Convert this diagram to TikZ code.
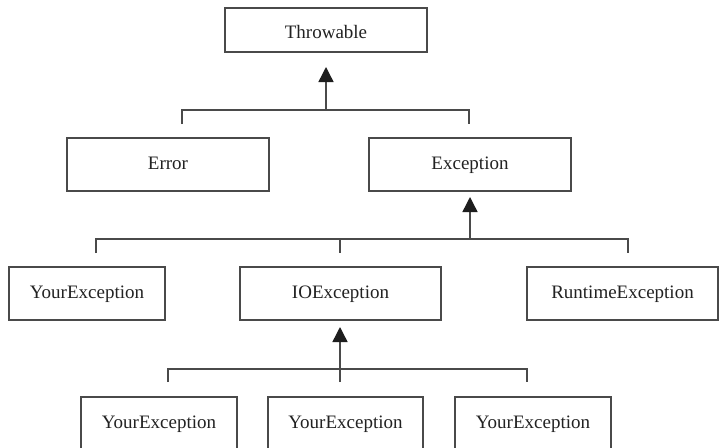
\documentclass[tikz,border=0pt]{standalone}
\usepackage{fontspec}
\setmainfont{Liberation Serif}
\usetikzlibrary{arrows.meta}

\definecolor{linegray}{HTML}{4A4A4A}
\definecolor{textgray}{HTML}{222222}
\definecolor{tipblack}{HTML}{1E1E1E}

\tikzset{
  classbox/.style={draw=linegray, line width=1.4pt, rectangle, inner sep=0pt,
    text=textgray, font=\fontsize{19}{22}\selectfont,
    text height=13pt, text depth=4pt},
  bus/.style={draw=linegray, line width=1.4pt},
  inherit/.style={draw=linegray, line width=1.4pt,
    -{Triangle[width=15pt,length=15pt,color=tipblack]}},
}

\begin{document}
\begin{tikzpicture}[x=1pt,y=-1pt]
  \fill[white] (0,0) rectangle (720,447);
  \useasboundingbox (0,0) rectangle (720,447);

  % class boxes
  \node[classbox, minimum width=202pt, minimum height=44pt,
        text height=17pt, text depth=0pt] (throwable) at (326,30) {Throwable};
  \node[classbox, minimum width=202pt, minimum height=53pt] (error) at (168,164.5) {Error};
  \node[classbox, minimum width=202pt, minimum height=53pt] (exception) at (470,164.5) {Exception};
  \node[classbox, minimum width=156pt, minimum height=53pt] (yourA) at (87,293.5) {YourException};
  \node[classbox, minimum width=201pt, minimum height=53pt] (ioex) at (340.5,293.5) {IOException};
  \node[classbox, minimum width=191pt, minimum height=53pt] (runtime) at (622.5,293.5) {RuntimeException};
  \node[classbox, minimum width=156pt, minimum height=53pt] (yourB) at (159,423.5) {YourException};
  \node[classbox, minimum width=155pt, minimum height=53pt] (yourC) at (345.5,423.5) {YourException};
  \node[classbox, minimum width=156pt, minimum height=53pt] (yourD) at (533,423.5) {YourException};

  % level 1: Error, Exception -> Throwable
  \coordinate (j1) at (326,110);
  \coordinate (t1) at (326,67);
  \coordinate (e1) at (182,124);
  \coordinate (x1) at (469,124);
  \draw[bus] (e1) -- (182,110) -- (469,110) -- (x1);
  \draw[inherit] (j1) -- (t1);

  % level 2: YourException, IOException, RuntimeException -> Exception
  \coordinate (j2) at (470,239);
  \coordinate (t2) at (470,197);
  \coordinate (a2) at (96,253);
  \coordinate (m2) at (340,253);
  \coordinate (r2) at (628,253);
  \draw[bus] (a2) -- (96,239) -- (628,239) -- (r2);
  \draw[bus] (340,239) -- (m2);
  \draw[inherit] (j2) -- (t2);

  % level 3: three YourException classes -> IOException
  \coordinate (j3) at (340,382);
  \coordinate (t3) at (340,327);
  \coordinate (a3) at (168,382);
  \coordinate (r3) at (527,382);
  \draw[bus] (a3) -- (168,369) -- (527,369) -- (r3);
  \draw[inherit] (j3) -- (t3);
\end{tikzpicture}
\end{document}
